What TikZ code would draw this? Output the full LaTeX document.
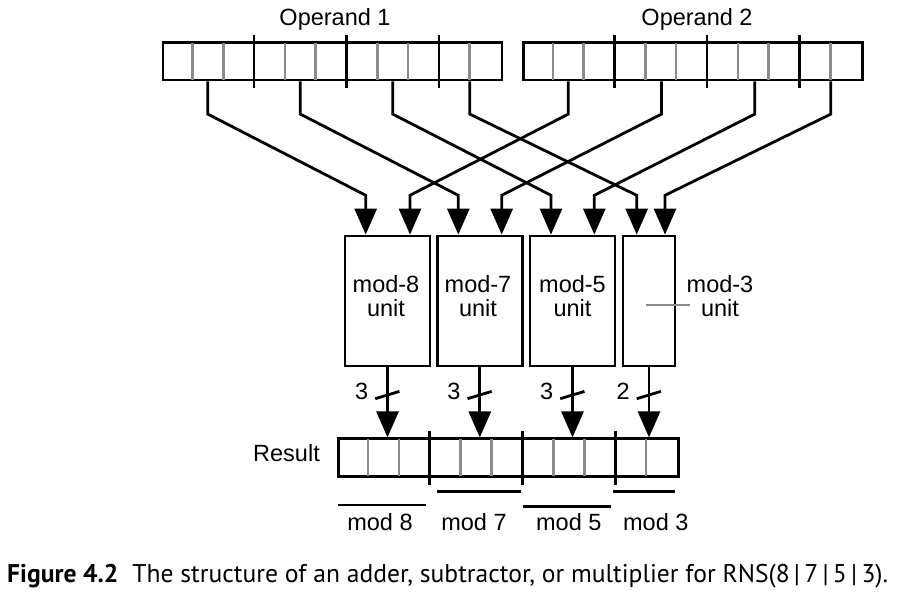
\documentclass[tikz,border=0pt]{standalone}
\usepackage{fontspec}
\setmainfont{Liberation Sans}
\newfontfamily\capfont{PT Sans}
\usetikzlibrary{arrows.meta,calc}
\begin{document}
\begin{tikzpicture}[x=1pt,y=-1pt,
  every node/.style={font=\fontsize{23.5}{24}\selectfont, inner sep=0pt},
  ln/.style={line width=2.8pt},
  gr/.style={line width=2.6pt, draw=black!45},
  arr/.style={line width=2.8pt, -{Triangle[length=26pt,width=22pt]}},
  reg/.style={draw, line width=2.8pt, minimum height=37.3pt, inner sep=0pt},
  ubox/.style={draw, line width=2.8pt, minimum height=130pt, inner sep=0pt},
]
\useasboundingbox (0,0) rectangle (899,592);

% registers
\node[reg, minimum width=339pt] (op1) at (332.5,61.35) {};
\node[reg, minimum width=339pt] (op2) at (693,61.35) {};
\node[reg, minimum width=340pt] (res) at (508.5,457.5) {};
\foreach \r/\w in {op1/30.818, op2/30.818, res/30.909} {
  \foreach \k in {1,2,4,5,7,8,10}
    \draw[gr] ($(\r.south west)+(\k*\w,-1.4)$) -- ($(\r.north west)+(\k*\w,1.4)$);
  \foreach \k in {3,6,9}
    \draw[ln] ($(\r.south west)+(\k*\w,7)$) -- ($(\r.north west)+(\k*\w,-6)$);
}
\node[anchor=base] (l1) at (335,25.5) {Operand 1};
\node[anchor=base] (l2) at (697,25.5) {Operand 2};
\node[anchor=base east] (rl) at (320,461.7) {Result};

% units
\node[ubox, minimum width=85pt] (m8) at (387.5,301) {};
\node[ubox, minimum width=85pt] (m7) at (479.8,301) {};
\node[ubox, minimum width=85pt] (m5) at (572.5,301) {};
\node[ubox, minimum width=52pt] (m3) at (649,301) {};
\foreach \u/\x/\t in {m8/386/8, m7/478/7, m5/572.5/5, m3/720/3} {
  \node[anchor=base] (\u a) at (\x,292.7) {mod-\t};
  \node[anchor=base] (\u b) at (\x,316.7) {unit};
}
\draw[gr] (646,305) -- (690,305);

% input wires
\foreach \src/\dx/\tgt/\tx in {op1/46.2/m8/-21.8, op1/138.7/m7/-21.5, op1/231.1/m5/-21.5, op1/308.2/m3/-12.3,
                               op2/46.2/m8/22.5, op2/139.4/m7/21.9, op2/232.7/m5/21.8, op2/308.7/m3/16}
  \draw[arr] ($(\src.south west)+(\dx,0)$) -- ++(0,32.7) -- ($(\tgt.north)+(\tx,-39.3)$) -- ($(\tgt.north)+(\tx,0)$);

% output wires
\foreach \u/\n in {m8/3, m7/3, m5/3, m3/2} {
  \draw[arr] (\u.south) -- (\u.south |- res.north);
  \draw[ln] ($(\u.south)+(-12.3,31.3)$) -- ++(24.2,-7.3);
  \node (n\u) at ($(\u.south)+(-25.8,24)$) {\n};
}

% field labels
\draw[ln] (337.7,505) -- (425.7,505);
\node[anchor=base] (f8) at (380,530) {mod 8};
\draw[ln] (437.3,491.7) -- (520.7,491.7);
\node[anchor=base] (f7) at (474,530) {mod 7};
\draw[ln] (522.7,506.7) -- (611,506.7);
\node[anchor=base] (f5) at (568.8,530) {mod 5};
\draw[ln] (613.3,491.7) -- (675,491.7);
\node[anchor=base] (f3) at (655.8,530) {mod 3};

% caption
\node[anchor=base west, font=\capfont\fontsize{25.6}{30}\selectfont] (cap) at (7,582)
  {\textbf{Figure 4.2}\hspace{14pt}The structure of an adder, subtractor, or multiplier for RNS(8\,|\,7\,|\,5\,|\,3).};
\end{tikzpicture}
\end{document}
